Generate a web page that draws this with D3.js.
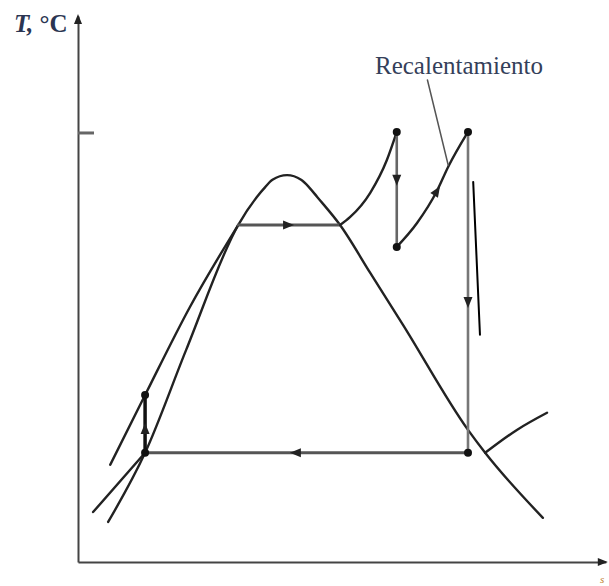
<!DOCTYPE html>
<html lang="es">
<head>
<meta charset="UTF-8">
<script src="https://d3js.org/d3.v7.min.js"></script>
<style>
  body { margin: 0; background: #fff; }
  svg { display: block; }
</style>
</head>
<body>
<script>
    // T-s diagram of a Rankine cycle with reheat (arbitrary units)
    var domeCurve = [[5.8, 7.7], [12.9, 21.0], [20.8, 40.8], [30.8, 64.8], [34.4, 70.2], [36.0, 72.1],
        [37.4, 73.5], [40.2, 74.4], [42.9, 73.5], [44.4, 72.1], [46.0, 70.2], [50.4, 64.8],
        [56.2, 55.6], [62.5, 45.6], [75.0, 25.4], [78.3, 21.0], [89.4, 8.5]];
    var liquidLine = [[6.2, 18.7], [12.9, 32.1], [21.5, 49.0], [30.8, 64.8]];
    var lowLiquidLine = [[2.9, 9.6], [12.9, 21.0]];
    var condenserIsobar = [[78.3, 21.0], [84.4, 25.4], [90.2, 28.7]];
    var boiling = [[30.8, 64.8], [50.4, 64.8]];
    var superheat = [[50.4, 64.8], [52.3, 66.3], [56.2, 71.0], [59.4, 77.3], [61.3, 82.7]];
    var hpTurbine = [[61.3, 82.7], [61.3, 60.6]];
    var reheat = [[61.3, 60.6], [65.2, 65.2], [69.0, 71.3], [71.2, 76.0], [75.0, 82.7]];
    var lpTurbine = [[75.0, 82.7], [75.0, 21.0]];
    var condenser = [[75.0, 21.0], [12.9, 21.0]];
    var pump = [[12.9, 21.0], [12.9, 32.1]];
    var statePoints = [[12.9, 21.0], [12.9, 32.1], [61.3, 82.7], [61.3, 60.6], [75.0, 82.7], [75.0, 21.0]];
    // arrows: position and direction (ds, dT)
    var flowArrows = [[40.4, 64.8, 1, 0], [61.3, 73.5, 0, -1], [69.0, 71.3, 1, 1.6],
        [75.0, 50.0, 0, -1], [41.9, 21.0, -1, 0], [12.9, 25.6, 0, 1]];
    var strayLine = [[76.0, 73.1], [77.3, 43.7]];
    var leader = [[67.2, 92.7], [71.2, 76.3]];
    var topTick = [82.6];

    var width = 609, height = 586;

    var svg = d3.select("body").append("svg")
        .attr("width", width)
        .attr("height", height);

    var x = d3.scaleLinear().domain([0, 101.5]).range([78, 605.8]);
    var y = d3.scaleLinear().domain([0, 105]).range([562, 16]);

    var line = d3.line()
        .x(function (d) { return x(d[0]); })
        .y(function (d) { return y(d[1]); });
    var smooth = d3.line()
        .x(function (d) { return x(d[0]); })
        .y(function (d) { return y(d[1]); })
        .curve(d3.curveMonotoneX);

    // axes
    var yAxis = d3.axisLeft(y).tickValues(topTick).tickSizeInner(-16).tickSizeOuter(0).tickFormat("");
    var xAxis = d3.axisBottom(x).tickValues([]).tickSizeOuter(0);

    var gy = svg.append("g").attr("transform", "translate(" + x(0) + ",0)").call(yAxis);
    var gx = svg.append("g").attr("transform", "translate(0," + y(0) + ")").call(xAxis);
    svg.selectAll(".domain").attr("stroke", "#444").attr("stroke-width", 2);
    gy.selectAll(".tick line").attr("stroke", "#666").attr("stroke-width", 3);

    // axis arrow heads
    svg.append("path")
        .attr("d", "M" + x(0) + "," + (y(105) - 2) + " l-4,10 l8,0 z")
        .attr("fill", "#222");
    svg.append("path")
        .attr("d", "M" + (x(101.5) + 2) + "," + y(0) + " l-10,-4 l0,8 z")
        .attr("fill", "#222");

    svg.append("text")
        .attr("x", 14).attr("y", 32)
        .attr("font-family", "Liberation Serif, serif")
        .attr("font-weight", "bold")
        .attr("font-size", 25)
        .attr("fill", "#2b3552")
        .html('<tspan font-style="italic">T,</tspan> °C');

    svg.append("text")
        .attr("x", 600).attr("y", 583)
        .attr("font-family", "Liberation Serif, serif")
        .attr("font-style", "italic")
        .attr("font-size", 11)
        .attr("fill", "#c08030")
        .text("s");

    // saturation dome and isobars
    var g = svg.append("g").attr("fill", "none").attr("stroke-linecap", "round");
    g.append("path").attr("d", smooth(domeCurve)).attr("stroke", "#222").attr("stroke-width", 2.4);
    g.append("path").attr("d", smooth(liquidLine)).attr("stroke", "#222").attr("stroke-width", 2.4);
    g.append("path").attr("d", line(lowLiquidLine)).attr("stroke", "#222").attr("stroke-width", 2.4);
    g.append("path").attr("d", smooth(condenserIsobar)).attr("stroke", "#222").attr("stroke-width", 2.4);

    // cycle
    g.append("path").attr("d", line(boiling)).attr("stroke", "#555").attr("stroke-width", 3);
    g.append("path").attr("d", smooth(superheat)).attr("stroke", "#222").attr("stroke-width", 2.4);
    g.append("path").attr("d", line(hpTurbine)).attr("stroke", "#666").attr("stroke-width", 2.6);
    g.append("path").attr("d", smooth(reheat)).attr("stroke", "#222").attr("stroke-width", 2.4);
    g.append("path").attr("d", line(lpTurbine)).attr("stroke", "#777").attr("stroke-width", 2.6);
    g.append("path").attr("d", line(condenser)).attr("stroke", "#555").attr("stroke-width", 3);
    g.append("path").attr("d", line(pump)).attr("stroke", "#111").attr("stroke-width", 3.5);
    g.append("path").attr("d", line(strayLine)).attr("stroke", "#000").attr("stroke-width", 2);
    g.append("path").attr("d", line(leader)).attr("stroke", "#555").attr("stroke-width", 1.5);

    svg.selectAll("circle.state")
        .data(statePoints)
        .enter()
        .append("circle")
        .attr("class", "state")
        .attr("cx", function (d) { return x(d[0]); })
        .attr("cy", function (d) { return y(d[1]); })
        .attr("r", 4)
        .attr("fill", "#111");

    svg.selectAll("path.flow")
        .data(flowArrows)
        .enter()
        .append("path")
        .attr("class", "flow")
        .attr("d", "M6,0 L-5,-4.5 L-5,4.5 Z")
        .attr("fill", "#222")
        .attr("transform", function (d) {
            var ang = Math.atan2(-d[3], d[2]) * 180 / Math.PI;
            return "translate(" + x(d[0]) + "," + y(d[1]) + ") rotate(" + ang + ")";
        });

    svg.append("text")
        .attr("x", 375).attr("y", 74)
        .attr("font-family", "Liberation Serif, serif")
        .attr("font-size", 25)
        .attr("fill", "#34405a")
        .text("Recalentamiento");
</script>
</body>
</html>
